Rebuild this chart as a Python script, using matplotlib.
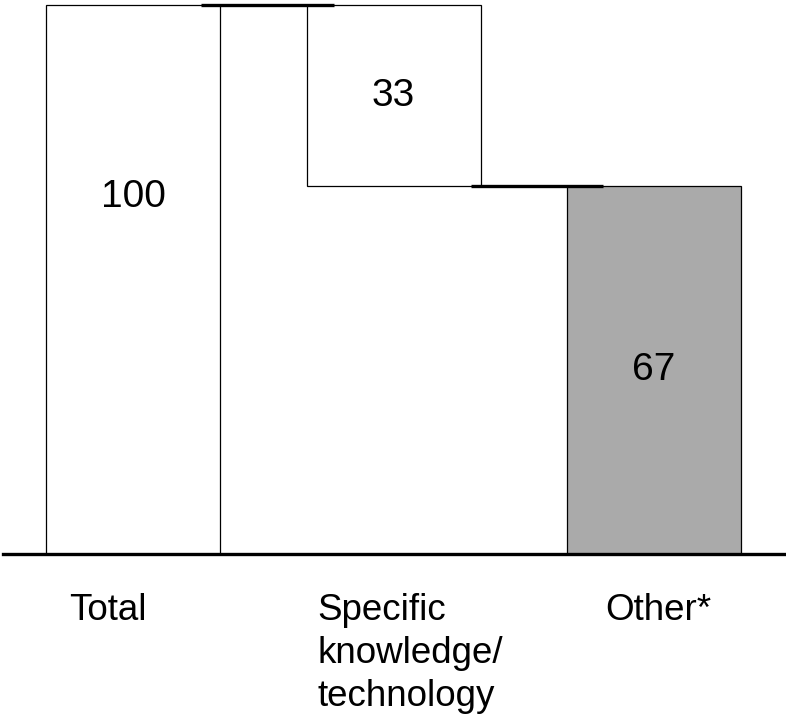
import matplotlib.pyplot as plt

plt.rcParams['font.family'] = ['Liberation Sans', 'DejaVu Sans']

# waterfall: total split into two components
categories = ['Total', 'Specific\nknowledge/\ntechnology', 'Other*']
values = [100, 33, 67]
bottoms = [0, 67, 0]
colors = ['white', 'white', '#aaaaaa']
label_y = [65, 83.5, 33.5]

width = 0.668
x = [0, 1, 2]

fig = plt.figure(figsize=(7.86, 7.15), dpi=100)
ax = fig.add_axes([0, 0, 1, 1])
ax.set_xlim(-0.511, 2.507)
ax.set_ylim(-29.3, 100.9)
ax.axis('off')

ax.bar(x, values, width=width, bottom=bottoms, color=colors,
       edgecolor='black', linewidth=0.9, zorder=2)

for xi, v, ly in zip(x, values, label_y):
    ax.text(xi, ly, str(v), ha='center', va='center', fontsize=28, zorder=4)

# connector lines between bar tops
ax.plot([width / 2 - 0.073, 1 - width / 2 + 0.104], [100, 100],
        color='black', lw=2.4, solid_capstyle='butt', zorder=3)
ax.plot([1 + width / 2 - 0.038, 2 - width / 2 + 0.138], [67, 67],
        color='black', lw=2.4, solid_capstyle='butt', zorder=3)

# baseline
ax.axhline(0, xmin=3 / 786, xmax=1, color='black', lw=2.4, zorder=3)

# category labels below the baseline
label_x = [-0.245, 0.707, 1.812]
for lx, c in zip(label_x, categories):
    ax.text(lx, -7.0, c, ha='left', va='top', fontsize=26.5, linespacing=1.3)

fig.savefig('out.png', dpi=100)
